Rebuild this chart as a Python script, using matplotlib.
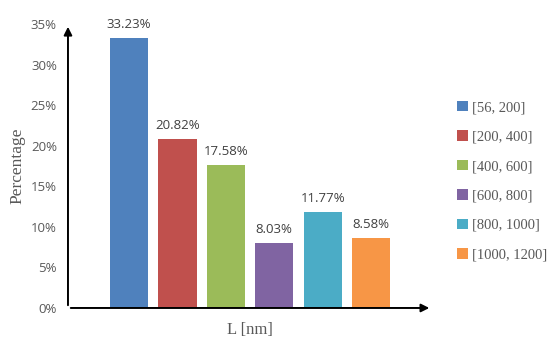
import matplotlib.pyplot as plt
import numpy as np

# bin ranges and share of particles per bin
bins = ["[56, 200]", "[200, 400]", "[400, 600]", "[600, 800]", "[800, 1000]", "[1000, 1200]"]
percent = [33.23, 20.82, 17.58, 8.03, 11.77, 8.58]
colors = ["#4F81BD", "#C0504D", "#9BBB59", "#8064A2", "#4BACC6", "#F79646"]
yticks = [0, 5, 10, 15, 20, 25, 30, 35]

gray = "#595959"
fig = plt.figure(figsize=(5.5, 3.48), dpi=100)
ax = fig.add_axes([0.1236, 0.115, 0.662, 0.816])

x = np.arange(len(bins))
for i in range(len(bins)):
    ax.bar(x[i], percent[i], width=0.79, color=colors[i], label=bins[i])
    ax.text(x[i], percent[i] + 0.9, "%.2f%%" % percent[i], ha="center", va="bottom",
            fontsize=9.5, color="#404040", family="Open Sans")

ax.set_xlim(-1.26, 6.26)
ax.set_ylim(0, 35)
ax.set_yticks(yticks)
ax.set_yticklabels(["%d%%" % t for t in yticks], fontsize=9.5, color=gray, family="Open Sans")
ax.set_xticks([])
ax.tick_params(axis="y", length=0, pad=8)
for s in ax.spines.values():
    s.set_visible(False)

# arrow axes
ax.annotate("", xy=(0, 1.0), xytext=(0, 0), xycoords="axes fraction",
            arrowprops=dict(arrowstyle="-|>", color="black", lw=1.4, mutation_scale=12))
ax.annotate("", xy=(1.0, 0), xytext=(0, 0), xycoords="axes fraction",
            arrowprops=dict(arrowstyle="-|>", color="black", lw=1.4, mutation_scale=12))

ax.set_ylabel("Percentage", fontsize=12.5, color=gray, family="Liberation Serif", labelpad=4)
ax.set_xlabel("L [nm]", fontsize=12, color=gray, family="Liberation Serif", labelpad=10)

ax.legend(loc="center left", bbox_to_anchor=(1.068, 0.447), frameon=False,
          borderaxespad=0, borderpad=0,
          prop={"family": "Liberation Serif", "size": 10.5}, labelcolor=gray,
          handlelength=0.75, handleheight=0.75, handletextpad=0.3, labelspacing=1.1)

plt.savefig("out.png", dpi=100)
